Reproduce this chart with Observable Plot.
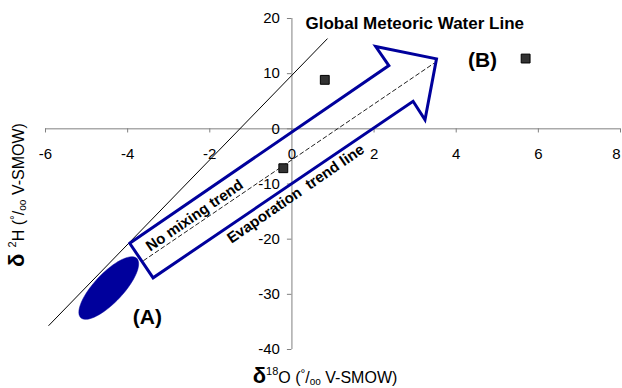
<!DOCTYPE html>
<html>
<head>
<meta charset="utf-8">
<script src="https://cdn.jsdelivr.net/npm/d3@7"></script>
<script src="https://cdn.jsdelivr.net/npm/@observablehq/plot@0.6"></script>
<style>
  html, body { margin: 0; padding: 0; background: #fff; }
  #chart svg { display: block; }
</style>
</head>
<body>
<div id="chart"></div>
<script>
// ---- data ----
const xTicks = [-6, -4, -2, 0, 2, 4, 6, 8];
const yTicks = [20, 10, 0, -10, -20, -30, -40];
const xTickLabels = ["-6", "-4", "-2", "0", "2", "4", "6", "8"];
const yTickLabels = ["20", "10", "0", "-10", "-20", "-30", "-40"];

// sample points (δ18O, δ2H)
const sampleX = [0.80, -0.21, 5.69];
const sampleY = [8.88, -7.14, 12.74];

// Global Meteoric Water Line end points
const gmwlX = [-5.92, 0.86];
const gmwlY = [-35.65, 16.31];

// Evaporation trend line end points
const evapX = [-3.61, 3.45];
const evapY = [-23.87, 11.84];

// Arrow outline vertices (data units)
const arrowX = [-3.95, 2.36, 2.04, 3.52, 3.24, 2.95, -3.38, -3.95];
const arrowY = [-20.74, 11.47, 14.92, 12.69, 1.63, 5.00, -27.01, -20.74];

// Ellipse (A): centre and semi-axis vectors (data units)
const ellipseCenter = [-4.46, -28.86];
const ellipseMajor = [0.68, 5.38];
const ellipseMinor = [0.26, -1.80];

// labels
const labelText = ["Global Meteoric Water Line", "(B)", "(A)"];
const labelX = [0.33, 4.64, -3.52];
const labelY = [19.09, 12.38, -34.15];

const blue = "#00009c";
const font = "'Liberation Sans', Arial, Helvetica, sans-serif";

// ellipse outline from its geometry
const ellipsePts = d3.range(0, 73).map(i => {
  const t = (i / 72) * 2 * Math.PI;
  return {
    x: ellipseCenter[0] + ellipseMajor[0] * Math.cos(t) + ellipseMinor[0] * Math.sin(t),
    y: ellipseCenter[1] + ellipseMajor[1] * Math.cos(t) + ellipseMinor[1] * Math.sin(t)
  };
});

const samples = sampleX.map((x, i) => ({x, y: sampleY[i]}));
const gmwl = gmwlX.map((x, i) => ({x, y: gmwlY[i]}));
const evap = evapX.map((x, i) => ({x, y: evapY[i]}));
const arrow = arrowX.map((x, i) => ({x, y: arrowY[i]}));
const xt = xTicks.map((v, i) => ({v, label: xTickLabels[i], dx: i === xTicks.length - 1 ? -3 : 0}));
const yt = yTicks.map((v, i) => ({v, label: yTickLabels[i]}));

const plot = Plot.plot({
  width: 622,
  height: 388,
  marginLeft: 45,
  marginRight: 2,
  marginTop: 18,
  marginBottom: 39,
  style: {background: "#fff", fontFamily: font, color: "#000"},
  x: {domain: [-6, 8], axis: null},
  y: {domain: [-40, 20], axis: null},
  marks: [
    // axes crossing at the origin
    Plot.ruleY([0], {x1: -6, x2: 8, stroke: "#808080", strokeWidth: 1}),
    Plot.ruleX([0], {y1: -40, y2: 20, stroke: "#808080", strokeWidth: 1}),
    Plot.ruleX(xt, {x: "v", y1: 0, y2: -0.75, stroke: "#808080"}),
    Plot.ruleY(yt, {y: "v", x1: 0, x2: -0.11, stroke: "#808080"}),
    Plot.text(xt.slice(0, -1), {x: "v", y: 0, dy: 25, text: "label", fontSize: 15, fill: "#000"}),
    Plot.text(xt.slice(-1), {x: "v", y: 0, dy: 25, dx: -4, text: "label", fontSize: 15, fill: "#000"}),
    Plot.text(yt, {x: 0, y: "v", dx: -12, textAnchor: "end", text: "label", fontSize: 15, fill: "#000"}),
    // ellipse A
    Plot.line(ellipsePts, {x: "x", y: "y", fill: blue, stroke: blue, strokeWidth: 0.5}),
    // GMWL
    Plot.line(gmwl, {x: "x", y: "y", stroke: "#000", strokeWidth: 1}),
    // evaporation trend line
    Plot.line(evap, {x: "x", y: "y", stroke: "#222", strokeWidth: 1, strokeDasharray: "4,3"}),
    // arrow
    Plot.line(arrow, {x: "x", y: "y", stroke: blue, strokeWidth: 3, strokeLinejoin: "miter", strokeMiterlimit: 10}),
    // samples
    Plot.dot(samples, {x: "x", y: "y", symbol: "square", r: 5, fill: "#333", stroke: "#000", strokeWidth: 1}),
    // labels
    Plot.text([labelText[0]], {x: labelX[0], y: labelY[0], text: d => d, textAnchor: "start", fontSize: 17, fontWeight: "bold", fill: "#000"}),
    Plot.text([labelText[1]], {x: labelX[1], y: labelY[1], text: d => d, fontSize: 21, fontWeight: "bold", fill: "#000"}),
    Plot.text([labelText[2]], {x: labelX[2], y: labelY[2], text: d => d, fontSize: 21, fontWeight: "bold", fill: "#000"}),
    Plot.text(["No mixing trend"], {x: -2.37, y: -15.71, text: d => d, rotate: -34.5, fontSize: 15, fontWeight: "bold", fill: "#000"}),
    Plot.text(["Evaporation\u00a0 trend line"], {x: 0.09, y: -11.78, text: d => d, rotate: -34.5, fontSize: 15, fontWeight: "bold", fill: "#000"})
  ]
});

document.getElementById("chart").appendChild(plot);

// axis titles with super/subscripts
const svg = d3.select(plot);
function title(sel, parts) {
  parts.forEach(p => {
    const ts = sel.append("tspan").text(p.t).attr("font-size", p.s);
    if (p.w) ts.attr("font-weight", p.w);
    if (p.dy) ts.attr("dy", p.dy);
  });
}
const xt1 = svg.append("text")
  .attr("x", 325).attr("y", 383)
  .attr("text-anchor", "middle")
  .attr("font-family", font).attr("fill", "#000");
title(xt1, [
  {t: "δ", s: 22, w: "bold"},
  {t: "18", s: 11, dy: -8},
  {t: "O (", s: 16, dy: 8},
  {t: "°", s: 12, dy: -5},
  {t: "/", s: 16, dy: 5},
  {t: "oo", s: 10, dy: 2},
  {t: " V-SMOW)", s: 16, dy: -2}
]);

const yt1 = svg.append("text")
  .attr("transform", "translate(24,195) rotate(-90)")
  .attr("text-anchor", "middle")
  .attr("font-family", font).attr("fill", "#000");
title(yt1, [
  {t: "δ ", s: 22, w: "bold"},
  {t: "2", s: 11, dy: -8},
  {t: "H (", s: 16, dy: 8},
  {t: "°", s: 12, dy: -5},
  {t: "/", s: 16, dy: 5},
  {t: "oo", s: 10, dy: 2},
  {t: " V-SMOW)", s: 16, dy: -2}
]);
</script>
</body>
</html>
